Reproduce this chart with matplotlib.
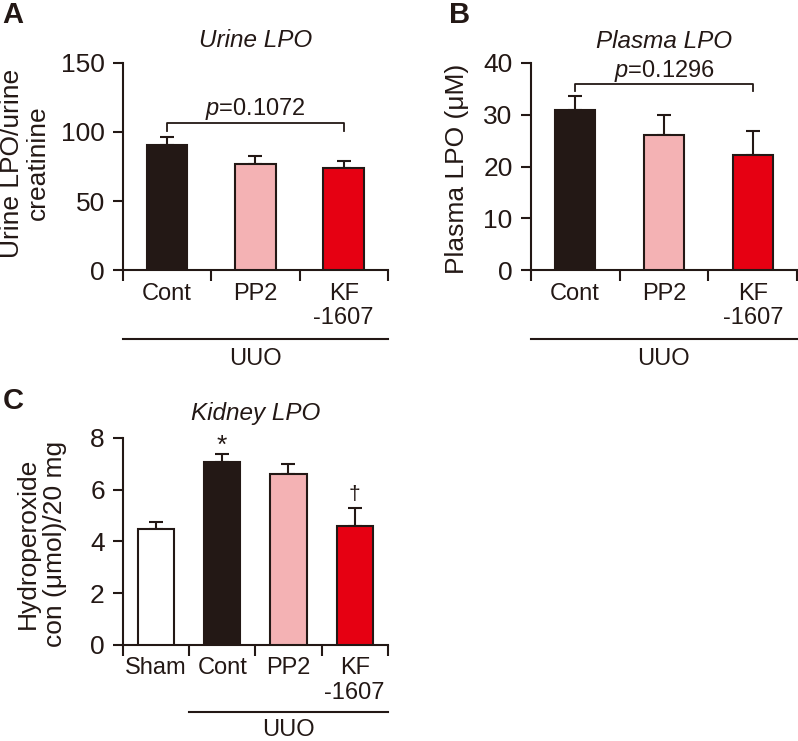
import matplotlib.pyplot as plt
import matplotlib.transforms as mtransforms

plt.rcParams['font.family'] = ['Liberation Sans', 'DejaVu Sans']
plt.rcParams['mathtext.fontset'] = 'custom'
plt.rcParams['mathtext.rm'] = 'Liberation Sans'
plt.rcParams['mathtext.it'] = 'Liberation Sans:italic'

# data
groups_ab = ['Cont', 'PP2', 'KF\n-1607']
urine_mean = [90.5, 76.8, 74.2]
urine_top = [96.4, 82.4, 79.2]
plasma_mean = [30.9, 26.0, 22.2]
plasma_top = [33.6, 30.0, 26.8]

groups_c = ['Sham', 'Cont', 'PP2', 'KF\n-1607']
kidney_mean = [4.47, 7.08, 6.61, 4.61]
kidney_top = [4.74, 7.39, 7.00, 5.31]

colors_ab = ['#231815', '#f4b2b4', '#e60012']
colors_c = ['#ffffff', '#231815', '#f4b2b4', '#e60012']

LW = 1.5
TXT = '#231815'


def bar_panel(ax, labels, means, tops, colors, ylim, yticks, width):
    n = len(labels)
    xs = [i + 0.5 for i in range(n)]
    errs = [t - m for t, m in zip(tops, means)]
    ax.bar(xs, means, width=width, color=colors, edgecolor=TXT, linewidth=LW, zorder=3)
    ax.errorbar(xs, means, yerr=[[0] * n, errs], fmt='none', ecolor=TXT,
                elinewidth=LW, capsize=5, capthick=LW, zorder=2)
    ax.set_xlim(0, n)
    ax.set_ylim(*ylim)
    ax.set_yticks(yticks)
    ax.set_xticks(range(n + 1))
    ax.set_xticklabels([])
    ax.set_xticks(xs, minor=True)
    ax.set_xticklabels(labels, minor=True, fontsize=17, color=TXT, linespacing=1.15)
    ax.tick_params(axis='x', which='minor', length=0, pad=9)
    ax.tick_params(axis='x', which='major', length=8, width=LW, color=TXT)
    ax.tick_params(axis='y', length=7, width=LW, color=TXT, labelsize=19, labelcolor=TXT, pad=6)
    for s in ['top', 'right']:
        ax.spines[s].set_visible(False)
    for s in ['left', 'bottom']:
        ax.spines[s].set_linewidth(LW)
        ax.spines[s].set_color(TXT)
    return xs


def group_line(ax, x0, x1, yline, ytext):
    tr = mtransforms.blended_transform_factory(ax.transData, ax.transAxes)
    ax.plot([x0, x1], [yline, yline], color=TXT, lw=LW, transform=tr, clip_on=False)
    ax.text((x0 + x1) / 2, ytext, 'UUO', transform=tr, ha='center', va='center',
            fontsize=17, color=TXT)


def bracket(ax, x0, x1, ytop, ybot, ytxt, label):
    ax.plot([x0, x0, x1, x1], [ybot, ytop, ytop, ybot], color=TXT, lw=1.3)
    ax.text((x0 + x1) / 2, ytxt, label, ha='center', va='baseline', fontsize=17, color=TXT)


fig = plt.figure(figsize=(7.98, 7.41), dpi=100)

axA = fig.add_axes([0.154, 0.6356, 0.332, 0.2794])
xs = bar_panel(axA, groups_ab, urine_mean, urine_top, colors_ab, (0, 150), [0, 50, 100, 150], 0.46)
axA.set_title('Urine LPO', style='italic', fontsize=17.5, color=TXT, y=1.035)
axA.set_ylabel('Urine LPO/urine\ncreatinine', fontsize=19, color=TXT, linespacing=1.13)
axA.yaxis.set_label_coords(-0.275, 0.517)
bracket(axA, xs[0], xs[2], 106.3, 100.4, 112.3, '$p$=0.1072')
group_line(axA, 0, 3, -0.333, -0.43)

axB = fig.add_axes([0.665, 0.6356, 0.334, 0.2794])
xs = bar_panel(axB, groups_ab, plasma_mean, plasma_top, colors_ab, (0, 40), [0, 10, 20, 30, 40], 0.45)
axB.set_title('Plasma LPO', style='italic', fontsize=17.5, color=TXT, y=1.03)
axB.set_ylabel('Plasma LPO (\u03bcM)', fontsize=19, color=TXT)
axB.yaxis.set_label_coords(-0.23, 0.49)
bracket(axB, xs[0], xs[2], 35.9, 34.6, 37.3, '$p$=0.1296')
group_line(axB, 0, 3, -0.333, -0.43)

axC = fig.add_axes([0.154, 0.1296, 0.332, 0.2794])
xs = bar_panel(axC, groups_c, kidney_mean, kidney_top, colors_c, (0, 8), [0, 2, 4, 6, 8], 0.545)
axC.set_title('Kidney LPO', style='italic', fontsize=17.5, color=TXT, y=1.045)
axC.set_ylabel('Hydroperoxide\ncon (\u03bcmol)/20 mg', fontsize=19, color=TXT, linespacing=1.2)
axC.yaxis.set_label_coords(-0.21, 0.49)
axC.text(xs[1], 7.22, '*', ha='center', va='bottom', fontsize=19, color=TXT)
axC.text(xs[3], 5.45, '\u2020', ha='center', va='bottom', fontsize=15, color=TXT)
group_line(axC, 1, 4, -0.324, -0.41)

for x, y, s in [(0.003, 0.998, 'A'), (0.563, 0.998, 'B'), (0.003, 0.478, 'C')]:
    fig.text(x, y, s, fontsize=21, fontweight='bold', va='top', ha='left', color=TXT)

fig.savefig('out.png', dpi=100)
